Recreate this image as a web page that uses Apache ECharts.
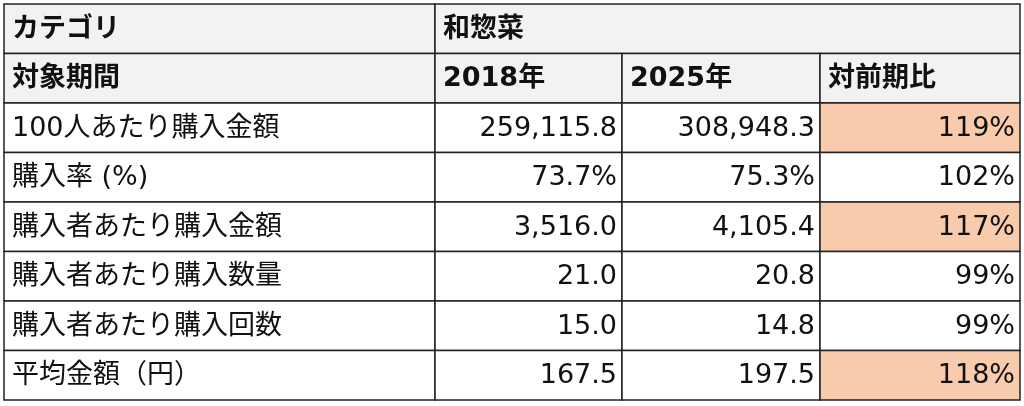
<!DOCTYPE html>
<html>
<head>
<meta charset="utf-8">
<script src="https://cdn.jsdelivr.net/npm/echarts@6/dist/echarts.min.js"></script>
<style>html,body{margin:0;padding:0;background:#fff}#chart{width:1024px;height:406px}</style>
</head>
<body>
<div id="chart"></div>
<script>
// table content
const category = '和惣菜';
const periodLabel = ['対象期間', '2018年', '2025年', '対前期比'];
const metrics = ['100人あたり購入金額', '購入率 (%)', '購入者あたり購入金額', '購入者あたり購入数量', '購入者あたり購入回数', '平均金額（円）'];
const values2018 = ['259,115.8', '73.7%', '3,516.0', '21.0', '15.0', '167.5'];
const values2025 = ['308,948.3', '75.3%', '4,105.4', '20.8', '14.8', '197.5'];
const ratio = ['119%', '102%', '117%', '99%', '99%', '118%'];
const highlight = [true, false, true, false, false, true];

// layout (pixel-ish units on hidden value axes)
const colEdges = [4, 435, 622, 820, 1020];
const rowTop = 4, rowH = 49.5;

const cells = [];
cells.push({ c0: 0, c1: 1, r: 0, text: 'カテゴリ', bold: true, fill: '#f2f2f2', align: 'left' });
cells.push({ c0: 1, c1: 4, r: 0, text: category, bold: true, fill: '#f2f2f2', align: 'left' });
periodLabel.forEach((t, i) => cells.push({ c0: i, c1: i + 1, r: 1, text: t, bold: true, fill: '#f2f2f2', align: 'left' }));
metrics.forEach((m, i) => {
    const r = i + 2;
    cells.push({ c0: 0, c1: 1, r: r, text: m, fill: '#fff', align: 'left' });
    cells.push({ c0: 1, c1: 2, r: r, text: values2018[i], fill: '#fff', align: 'right' });
    cells.push({ c0: 2, c1: 3, r: r, text: values2025[i], fill: '#fff', align: 'right' });
    cells.push({ c0: 3, c1: 4, r: r, text: ratio[i], fill: highlight[i] ? '#f8cbad' : '#fff', align: 'right' });
});

const data = cells.map((c, i) => [colEdges[c.c0], rowTop + c.r * rowH, colEdges[c.c1], rowTop + (c.r + 1) * rowH, i]);

const myChart = echarts.init(document.getElementById('chart'));
const option = {
    animation: false,
    grid: { left: 0, right: 0, top: 0, bottom: 0 },
    xAxis: { type: 'value', min: 0, max: 1024, show: false },
    yAxis: { type: 'value', min: 0, max: 406, inverse: true, show: false },
    series: [{
        type: 'custom',
        data: data,
        renderItem: function (params, api) {
            const p0 = api.coord([api.value(0), api.value(1)]);
            const p1 = api.coord([api.value(2), api.value(3)]);
            const c = cells[api.value(4)];
            const w = p1[0] - p0[0], h = p1[1] - p0[1];
            return {
                type: 'group',
                children: [{
                    type: 'rect',
                    shape: { x: p0[0], y: p0[1], width: w, height: h },
                    style: { fill: c.fill, stroke: '#222', lineWidth: 1.5 }
                }, {
                    type: 'text',
                    style: {
                        x: c.align === 'left' ? p0[0] + 8 : p1[0] - 5,
                        y: p0[1] + h / 2 + 1,
                        text: c.text,
                        align: c.align,
                        verticalAlign: 'middle',
                        font: (c.bold ? 'bold ' : '') + '27px "DejaVu Sans", "Noto Sans CJK JP", sans-serif',
                        fill: '#111'
                    }
                }]
            };
        }
    }]
};
myChart.setOption(option);
</script>
</body>
</html>
